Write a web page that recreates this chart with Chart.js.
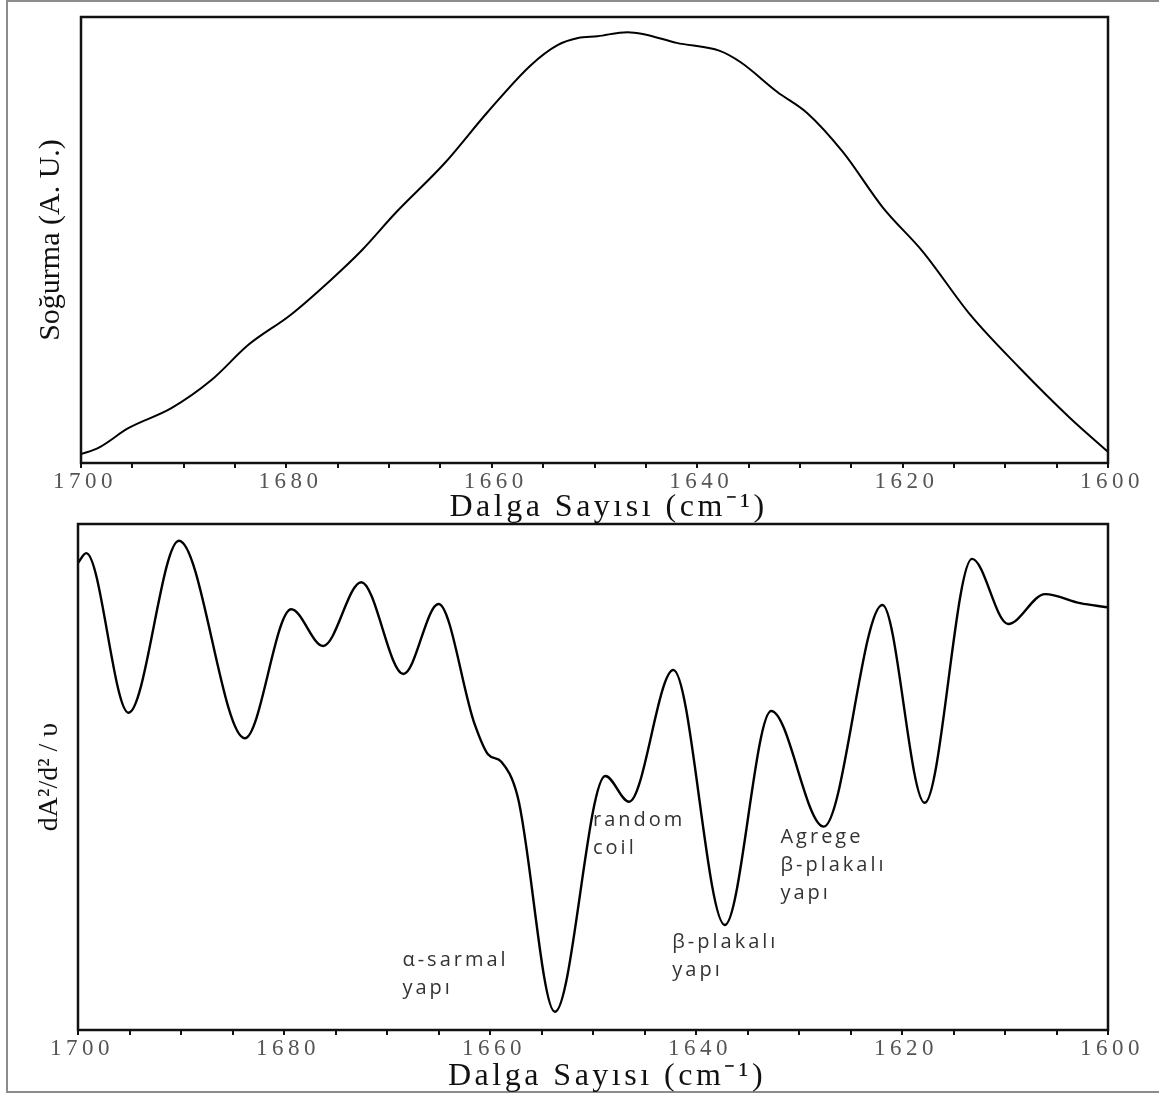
<!DOCTYPE html>
<html>
<head>
<meta charset="utf-8">
<title>Soğurma ve ikinci türev spektrumu</title>
<script src="https://cdn.jsdelivr.net/npm/chart.js@4/dist/chart.umd.min.js"></script>
<style>
  html, body { margin: 0; padding: 0; background: #fff; }
  body { width: 1159px; height: 1095px; position: relative; overflow: hidden; }
  #frame { position: absolute; left: 6px; top: 0; width: 1170px; height: 1093px;
           border: 2px solid #8c8c8c; box-sizing: border-box; }
  canvas { position: absolute; left: 0; }
  #absorb { top: 0; }
  #deriv { top: 515px; }
</style>
</head>
<body>
<div id="frame"></div>
<canvas id="absorb" width="1159" height="530"></canvas>
<canvas id="deriv" width="1159" height="580"></canvas>
<script>
// Amide I band: absorbance (arbitrary units) vs wavenumber
const topWavenumbers = [1700, 1698.3, 1695.4, 1691.2, 1687.3, 1683.7, 1679.6, 1675.7, 1672.7, 1669.4,
  1664.6, 1660.4, 1656.2, 1653.6, 1651.6, 1649.7, 1646.8, 1645.3, 1642.0, 1637.8,
  1635.8, 1632.2, 1629.3, 1625.8, 1621.9, 1618.0, 1613.4, 1608.6, 1603.7, 1600];
const topAbsorbance = [0.020, 0.034, 0.078, 0.123, 0.186, 0.265, 0.332, 0.410, 0.476, 0.560,
  0.672, 0.787, 0.892, 0.937, 0.953, 0.957, 0.966, 0.962, 0.942, 0.924,
  0.899, 0.832, 0.785, 0.697, 0.572, 0.473, 0.332, 0.213, 0.101, 0.025];

// Second-derivative spectrum: turning points plus the 1660 shoulder
const derivWavenumbers = [1700.0, 1699.2, 1695.1, 1690.2, 1683.8, 1679.3, 1676.2, 1672.5, 1668.4, 1665.0,
  1661.5, 1660.2, 1658.9, 1657.3, 1653.7, 1648.8, 1646.5, 1642.2, 1637.2, 1632.7,
  1627.6, 1621.9, 1617.8, 1613.2, 1609.7, 1606.1, 1602.7, 1600.1];
const derivValues = [0.846, 0.885, 0.254, 0.934, 0.153, 0.663, 0.518, 0.770, 0.407, 0.684,
  0.210, 0.090, 0.060, -0.080, -0.928, 0.004, -0.098, 0.423, -0.585, 0.261,
  -0.196, 0.680, -0.102, 0.862, 0.605, 0.723, 0.687, 0.671];

// Axis range and labelled ticks
const axisMin = 1600;
const axisMax = 1700;
const tickStep = 5;
const labelledTicks = [1700, 1680, 1660, 1640, 1620, 1600];

// Band assignments written under the derivative minima
const bandLabels = [
  { lines: ['α-sarmal', 'yapı'], at: [1668.5, -0.723] },
  { lines: ['random', 'coil'], at: [1650.0, -0.170] },
  { lines: ['β-plakalı', 'yapı'], at: [1642.3, -0.652] },
  { lines: ['Agrege', 'β-plakalı', 'yapı'], at: [1631.8, -0.237] }
];

const AXIS_TEXT = { tickSpacing: '4.5px', tickShift: 4, titleSpacing: '3.5px', titleShift: 14 };

// Linear axis whose horizontal texts are letter-spaced
const BaseLinear = Chart.LinearScale || Chart.registry.getScale('linear');
class SpacedAxis extends BaseLinear {
  _spaced(spacing, dx, fn) {
    const ctx = this.ctx;
    ctx.save();
    ctx.letterSpacing = spacing;
    ctx.translate(dx, 0);
    fn();
    ctx.restore();
  }
  drawLabels(area) { this._spaced(AXIS_TEXT.tickSpacing, AXIS_TEXT.tickShift, () => super.drawLabels(area)); }
  drawTitle() { this._spaced(AXIS_TEXT.titleSpacing, AXIS_TEXT.titleShift, () => super.drawTitle()); }
}
SpacedAxis.id = 'spacedLinear';
SpacedAxis.defaults = BaseLinear.defaults;
Chart.register(SpacedAxis);

// Full box around the plotting area
const frameBox = {
  id: 'frameBox',
  afterDatasetsDraw(chart) {
    const { ctx, chartArea: a } = chart;
    ctx.save();
    ctx.strokeStyle = '#111';
    ctx.lineWidth = 2.5;
    ctx.strokeRect(a.left, a.top, a.right - a.left, a.bottom - a.top);
    ctx.restore();
  }
};

// Text notes placed in data coordinates
const bandNotes = {
  id: 'bandNotes',
  afterDatasetsDraw(chart, args, opts) {
    if (!opts.notes) return;
    const { ctx } = chart;
    const xs = chart.scales.x, ys = chart.scales.y;
    ctx.save();
    ctx.font = '20px "Open Sans", sans-serif';
    ctx.fillStyle = '#333';
    ctx.textAlign = 'left';
    ctx.textBaseline = 'middle';
    ctx.letterSpacing = '3px';
    opts.notes.forEach(n => {
      const px = xs.getPixelForValue(n.at[0]);
      const py = ys.getPixelForValue(n.at[1]);
      n.lines.forEach((t, i) => ctx.fillText(t, px, py + i * 28));
    });
    ctx.restore();
  }
};

function points(xs, ys) { return xs.map((x, i) => ({ x, y: ys[i] })); }

function makeChart(id, data, cfg) {
  return new Chart(document.getElementById(id), {
    type: 'line',
    data: { datasets: [{
      data,
      borderColor: '#000',
      borderWidth: cfg.lineWidth,
      pointRadius: 0,
      fill: false,
      cubicInterpolationMode: 'monotone'
    }] },
    options: {
      responsive: false,
      animation: false,
      events: [],
      layout: { padding: { top: cfg.padTop, right: 51, left: 0, bottom: 0 } },
      plugins: { legend: { display: false }, tooltip: { enabled: false },
                 bandNotes: { notes: cfg.notes } },
      scales: {
        x: {
          type: 'spacedLinear',
          min: axisMin, max: axisMax, reverse: true,
          afterFit: s => { s.height = cfg.xHeight; },
          border: { display: false },
          grid: { drawOnChartArea: false, drawTicks: true, tickLength: 5, color: '#111', lineWidth: 2 },
          ticks: {
            stepSize: tickStep, autoSkip: false, maxRotation: 0, padding: 0,
            color: '#555',
            font: { family: '"Liberation Serif", "Times New Roman", serif', size: 23 },
            callback: v => labelledTicks.includes(v) ? String(v) : ''
          },
          title: {
            display: true, text: 'Dalga Sayısı (cm⁻¹)', color: '#111',
            font: { family: '"Liberation Serif", "Times New Roman", serif', size: 32 },
            padding: { top: 0, bottom: cfg.titlePad }
          }
        },
        y: {
          min: cfg.yMin, max: cfg.yMax,
          afterFit: s => { s.width = cfg.yWidth; },
          border: { display: false },
          grid: { display: false, drawTicks: false },
          ticks: { display: false },
          title: {
            display: true, text: cfg.yTitle, color: '#111',
            font: { family: '"Liberation Serif", "Times New Roman", serif', size: cfg.yTitleSize },
            padding: { top: 33, bottom: 0 }
          }
        }
      }
    },
    plugins: [frameBox, bandNotes]
  });
}

makeChart('absorb', points(topWavenumbers, topAbsorbance), {
  lineWidth: 2, padTop: 17, xHeight: 67, yWidth: 81, titlePad: 3,
  yMin: 0, yMax: 1, yTitle: 'Soğurma (A. U.)', yTitleSize: 30, notes: null
});

makeChart('deriv', points(derivWavenumbers, derivValues), {
  lineWidth: 2.4, padTop: 9, xHeight: 65, yWidth: 78, titlePad: -1,
  yMin: -1, yMax: 1, yTitle: 'dA²/d² / υ', yTitleSize: 28, notes: bandLabels
});
</script>
</body>
</html>
